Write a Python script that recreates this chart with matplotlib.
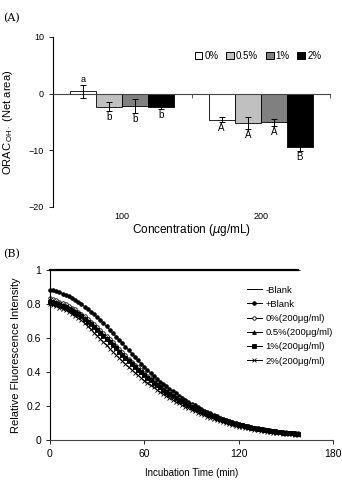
import numpy as np
import matplotlib
matplotlib.use('Agg')
import matplotlib.pyplot as plt
from matplotlib.lines import Line2D

plt.rcParams['font.family'] = ['Liberation Sans', 'DejaVu Sans']

# ---- panel A data ----
concs = ['100', '200']
levels = ['0%', '0.5%', '1%', '2%']
orac = {
    '0%':   [0.4, -4.6],
    '0.5%': [-2.3, -5.2],
    '1%':   [-2.2, -5.1],
    '2%':   [-2.4, -9.5],
}
orac_err = {
    '0%':   [1.2, 0.4],
    '0.5%': [0.8, 1.1],
    '1%':   [1.2, 0.7],
    '2%':   [0.4, 0.6],
}
letters = {
    '0%':   ['a', 'A'],
    '0.5%': ['b', 'A'],
    '1%':   ['b', 'A'],
    '2%':   ['b', 'B'],
}
bar_colors = ['white', '#c0c0c0', '#808080', 'black']

# ---- panel B data (every 2 min) ----
time = list(range(0, 160, 2))
blank_pos = [
    .886, .882, .877, .870, .863, .855, .846, .836, .825, .813,
    .800, .786, .771, .756, .741, .725, .707, .688, .669, .650,
    .630, .610, .590, .570, .550, .530, .510, .490, .470, .450,
    .430, .412, .394, .377, .361, .345, .331, .316, .302, .288,
    .275, .262, .250, .238, .226, .215, .204, .194, .184, .174,
    .165, .157, .149, .141, .133, .125, .119, .113, .107, .101,
    .095, .090, .086, .081, .077, .072, .069, .065, .062, .058,
    .055, .053, .051, .049, .047, .045, .043, .041, .040, .038]
s0 = [
    .835, .829, .822, .815, .808, .800, .790, .780, .769, .757,
    .745, .730, .714, .698, .682, .665, .647, .629, .611, .593,
    .575, .556, .537, .518, .499, .480, .462, .445, .428, .411,
    .395, .379, .364, .349, .334, .320, .307, .294, .282, .270,
    .258, .247, .236, .225, .215, .205, .196, .187, .178, .169,
    .160, .153, .145, .138, .130, .123, .117, .112, .106, .101,
    .095, .091, .086, .082, .077, .073, .070, .067, .063, .060,
    .057, .055, .053, .050, .048, .046, .045, .043, .042, .040]
s05 = [
    .825, .819, .812, .805, .798, .790, .780, .770, .759, .747,
    .735, .720, .704, .688, .672, .655, .637, .619, .601, .583,
    .565, .546, .527, .509, .490, .472, .454, .437, .420, .404,
    .388, .373, .358, .343, .329, .315, .302, .289, .277, .265,
    .253, .242, .231, .220, .210, .200, .191, .182, .174, .165,
    .156, .149, .142, .134, .127, .120, .114, .109, .103, .098,
    .092, .088, .084, .079, .075, .071, .068, .065, .061, .058,
    .055, .053, .051, .048, .046, .044, .043, .041, .040, .038]
s1 = [
    .815, .809, .802, .796, .789, .782, .772, .762, .751, .740,
    .728, .713, .697, .681, .665, .648, .630, .612, .594, .576,
    .558, .540, .521, .503, .484, .466, .449, .432, .415, .399,
    .383, .368, .353, .339, .325, .311, .298, .286, .274, .262,
    .250, .239, .229, .218, .208, .198, .189, .181, .172, .164,
    .155, .148, .141, .133, .126, .119, .113, .108, .102, .097,
    .091, .087, .083, .078, .074, .070, .067, .064, .060, .057,
    .054, .052, .050, .047, .045, .043, .042, .040, .039, .037]
s2 = [
    .800, .794, .787, .780, .772, .765, .754, .742, .730, .718,
    .705, .688, .670, .652, .633, .615, .596, .577, .558, .539,
    .520, .502, .484, .466, .448, .430, .414, .398, .382, .366,
    .350, .337, .323, .310, .296, .283, .271, .260, .248, .237,
    .225, .216, .206, .197, .187, .178, .170, .162, .154, .146,
    .138, .131, .125, .118, .112, .105, .100, .095, .090, .085,
    .080, .076, .072, .069, .065, .061, .058, .055, .053, .050,
    .047, .045, .043, .041, .039, .037, .036, .034, .033, .031]
blank_neg = [1.0] * len(time)

fig = plt.figure(figsize=(3.42, 4.8), dpi=100)

# ================= panel A =================
ax = fig.add_axes([0.155, 0.569, 0.81, 0.354])
x = np.arange(len(concs))
w = 0.188
for i, lv in enumerate(levels):
    xs = x + (i - 1.5) * w
    ax.bar(xs, orac[lv], w, color=bar_colors[i], edgecolor='black', linewidth=0.6, zorder=2)
    ax.errorbar(xs, orac[lv], yerr=orac_err[lv], fmt='none', ecolor='black',
                elinewidth=0.7, capsize=2.5, capthick=0.7, zorder=3)
    for j, v in enumerate(orac[lv]):
        if v >= 0:
            ax.text(xs[j], v + orac_err[lv][j] + 0.1, letters[lv][j], ha='center', va='bottom', fontsize=6.5)
        else:
            ax.text(xs[j], v - orac_err[lv][j] - 0.15, letters[lv][j], ha='center', va='top', fontsize=7)

ax.set_xlim(-0.5, 1.5)
ax.set_ylim(-20, 10)
ax.set_yticks([-20, -10, 0, 10])
ax.spines['top'].set_visible(False)
ax.spines['right'].set_visible(False)
ax.spines['bottom'].set_position(('data', 0))
ax.spines['bottom'].set_color('#444444')
ax.set_xticks([-0.5, 0.5, 1.5])
ax.set_xticklabels([])
ax.tick_params(axis='x', direction='out', length=3, width=0.6, color='#444444')
ax.tick_params(axis='y', direction='out', length=3, width=0.6, labelsize=6.5)
for j, c in enumerate(concs):
    ax.text(x[j], -0.03, c, transform=ax.get_xaxis_transform(), ha='center', va='top', fontsize=6.5)
ax.text(0.5, -0.09, r'Concentration ($\mu$g/mL)', transform=ax.transAxes,
        ha='center', va='top', fontsize=8.5)
ax.set_ylabel(r'ORAC$_{\,\mathregular{OH\cdot}}$ (Net area)', fontsize=8, labelpad=10)

handles = [plt.Rectangle((0, 0), 1, 1, facecolor=c, edgecolor='black', linewidth=0.7) for c in bar_colors]
ax.legend(handles, levels, loc='upper right', bbox_to_anchor=(1.0, 0.97), ncol=4, frameon=False,
          fontsize=7, handlelength=0.8, handleheight=0.8, handletextpad=0.2, columnspacing=0.8)
fig.text(0.01, 0.955, '(A)', fontsize=8, family='serif')

# ================= panel B =================
bx = fig.add_axes([0.146, 0.083, 0.828, 0.354])
series = [
    ('-Blank', blank_neg, '_', 3, 'black'),
    ('+Blank', blank_pos, 'o', 2.6, 'black'),
    ('0%(200\u03bcg/ml)', s0, 'o', 2.5, 'white'),
    ('0.5%(200\u03bcg/ml)', s05, '^', 2.7, 'black'),
    ('1%(200\u03bcg/ml)', s1, 's', 2.5, 'black'),
    ('2%(200\u03bcg/ml)', s2, 'x', 2.7, 'black'),
]
for k, (name, ys, mk, ms, mfc) in enumerate(series):
    lw = 1.6 if k == 0 else 0.7
    bx.plot(time, ys, color='black', linewidth=lw, marker=mk, markersize=ms,
            markerfacecolor=mfc, markeredgecolor='black', markeredgewidth=0.6,
            label=name, clip_on=False)

bx.set_xlim(0, 180)
bx.set_ylim(0, 1)
bx.set_xticks([0, 60, 120, 180])
bx.set_yticks([0, 0.2, 0.4, 0.6, 0.8, 1])
bx.set_yticklabels(['0', '0.2', '0.4', '0.6', '0.8', '1'])
bx.spines['top'].set_visible(False)
bx.spines['right'].set_visible(False)
bx.spines['bottom'].set_color('#444444')
bx.tick_params(direction='out', length=3, width=0.6, labelsize=7.5)
bx.set_xlabel('Incubation Time (min)', fontsize=7, labelpad=6)
bx.set_ylabel('Relative Fluorescence Intensity', fontsize=8)

leg_handles = [Line2D([0], [0], color='black', linewidth=0.7, marker=mk, markersize=ms,
                      markerfacecolor=mfc, markeredgecolor='black', markeredgewidth=0.6)
               for _, _, mk, ms, mfc in series]
bx.legend(leg_handles, [s[0] for s in series], loc='upper right', bbox_to_anchor=(1.03, 0.96),
          frameon=False, fontsize=6.8, handlelength=1.6, handletextpad=0.4, labelspacing=0.55)
fig.text(0.01, 0.465, '(B)', fontsize=8, family='serif')

fig.savefig('out.png', dpi=100)
